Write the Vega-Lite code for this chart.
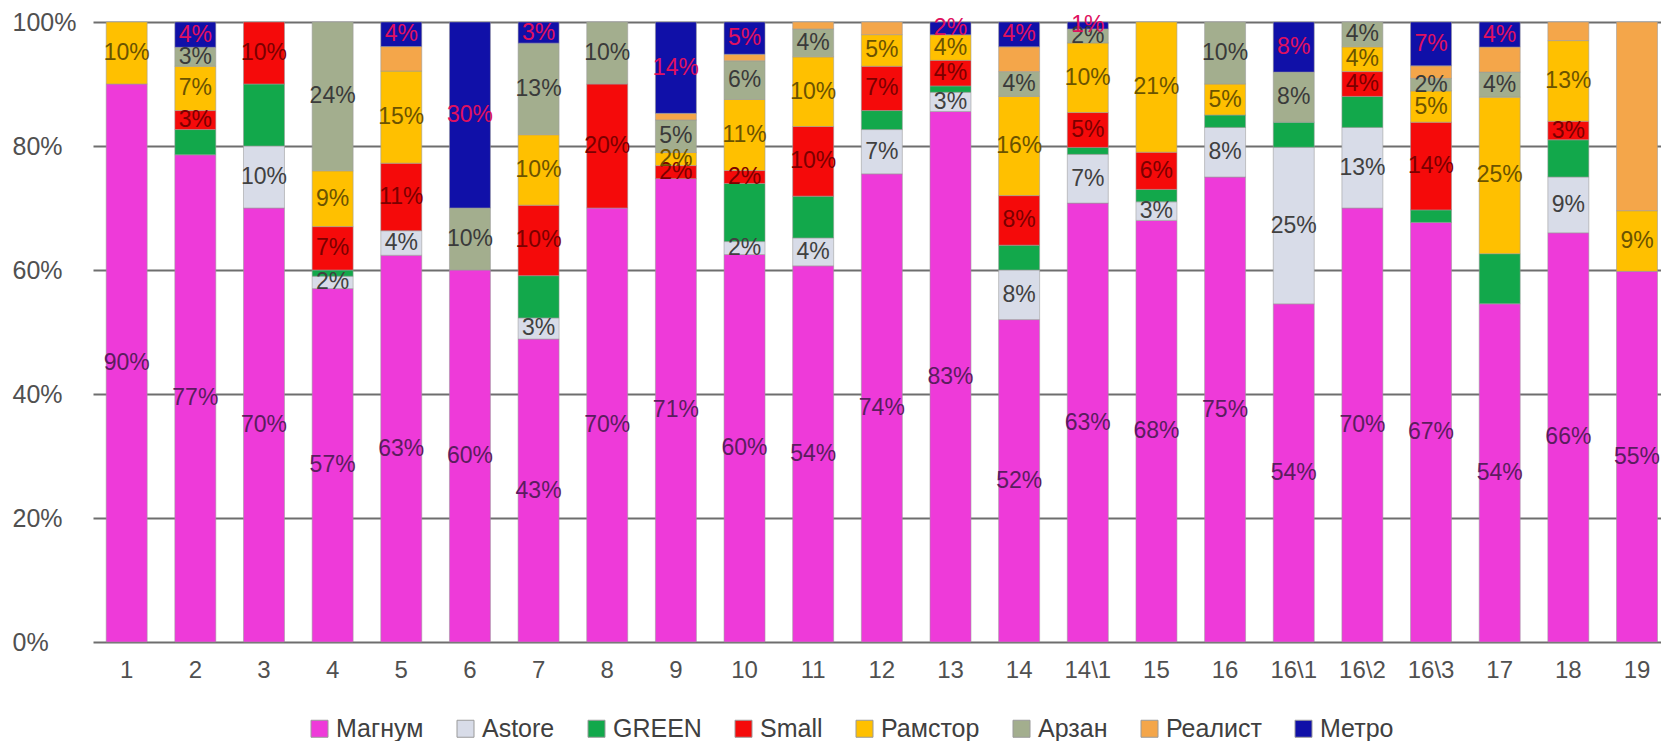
{
  "$schema": "https://vega.github.io/schema/vega-lite/v6.json",
  "width": 1568,
  "height": 620,
  "autosize": {"type": "none"},
  "padding": {"left": 93, "top": 22, "right": 0, "bottom": 99},
  "background": "white",
  "config": {"view": {"stroke": null}, "font": "Liberation Sans"},
  "data": {
    "values": [
      {"bar": "1", "Магнум": 90, "Рамстор": 10},
      {"bar": "2", "Магнум": 77, "GREEN": 4, "Small": 3, "Рамстор": 7, "Арзан": 3, "Метро": 4},
      {"bar": "3", "Магнум": 70, "Astore": 10, "GREEN": 10, "Small": 10},
      {"bar": "4", "Магнум": 57, "Astore": 2, "GREEN": 1, "Small": 7, "Рамстор": 9, "Арзан": 24},
      {"bar": "5", "Магнум": 63, "Astore": 4, "Small": 11, "Рамстор": 15, "Реалист": 4, "Метро": 4},
      {"bar": "6", "Магнум": 60, "Арзан": 10, "Метро": 30},
      {"bar": "7", "Магнум": 43, "Astore": 3, "GREEN": 6, "Small": 10, "Рамстор": 10, "Арзан": 13, "Метро": 3},
      {"bar": "8", "Магнум": 70, "Small": 20, "Арзан": 10},
      {"bar": "9", "Магнум": 71, "Small": 2, "Рамстор": 2, "Арзан": 5, "Реалист": 1, "Метро": 14},
      {"bar": "10", "Магнум": 60, "Astore": 2, "GREEN": 9, "Small": 2, "Рамстор": 11, "Арзан": 6, "Реалист": 1, "Метро": 5},
      {"bar": "11", "Магнум": 54, "Astore": 4, "GREEN": 6, "Small": 10, "Рамстор": 10, "Арзан": 4, "Реалист": 1},
      {"bar": "12", "Магнум": 74, "Astore": 7, "GREEN": 3, "Small": 7, "Рамстор": 5, "Реалист": 2},
      {"bar": "13", "Магнум": 83, "Astore": 3, "GREEN": 1, "Small": 4, "Рамстор": 4, "Метро": 2},
      {"bar": "14", "Магнум": 52, "Astore": 8, "GREEN": 4, "Small": 8, "Рамстор": 16, "Арзан": 4, "Реалист": 4, "Метро": 4},
      {"bar": "14\\1", "Магнум": 63, "Astore": 7, "GREEN": 1, "Small": 5, "Рамстор": 10, "Арзан": 2, "Метро": 1},
      {"bar": "15", "Магнум": 68, "Astore": 3, "GREEN": 2, "Small": 6, "Рамстор": 21},
      {"bar": "16", "Магнум": 75, "Astore": 8, "GREEN": 2, "Рамстор": 5, "Арзан": 10},
      {"bar": "16\\1", "Магнум": 54, "Astore": 25, "GREEN": 4, "Арзан": 8, "Метро": 8},
      {"bar": "16\\2", "Магнум": 70, "Astore": 13, "GREEN": 5, "Small": 4, "Рамстор": 4, "Арзан": 4},
      {"bar": "16\\3", "Магнум": 67, "GREEN": 2, "Small": 14, "Рамстор": 5, "Арзан": 2, "Реалист": 2, "Метро": 7},
      {"bar": "17", "Магнум": 54, "GREEN": 8, "Рамстор": 25, "Арзан": 4, "Реалист": 4, "Метро": 4},
      {"bar": "18", "Магнум": 66, "Astore": 9, "GREEN": 6, "Small": 3, "Рамстор": 13, "Реалист": 3},
      {"bar": "19", "Магнум": 55, "Рамстор": 9, "Реалист": 28}
    ]
  },
  "transform": [
    {"fold": ["Магнум", "Astore", "GREEN", "Small", "Рамстор", "Арзан", "Реалист", "Метро"], "as": ["s", "v"]},
    {"filter": "isValid(datum.v) && datum.v > 0"},
    {"calculate": "indexof(['Магнум','Astore','GREEN','Small','Рамстор','Арзан','Реалист','Метро'], datum.s)", "as": "k"},
    {"stack": "v", "groupby": ["bar"], "sort": [{"field": "k", "order": "ascending"}], "offset": "normalize", "as": ["v0", "v1"]},
    {"calculate": "(datum.v0 + datum.v1) / 2", "as": "mid"},
    {"calculate": "datum.v + '%'", "as": "lbl"}
  ],
  "encoding": {
    "x": {
      "field": "bar",
      "type": "nominal",
      "sort": null,
      "scale": {"paddingInner": 0.403, "paddingOuter": 0.1216, "align": 0.79},
      "axis": {
        "title": null,
        "ticks": false,
        "tickSize": 0,
        "domain": false,
        "grid": false,
        "labelAngle": 0,
        "labelPadding": 16,
        "labelFontSize": 24,
        "labelFont": "Liberation Sans",
        "labelColor": "#505050"
      }
    }
  },
  "layer": [
    {
      "mark": {"type": "bar", "stroke": "#9a9a9a", "strokeWidth": 0.7, "strokeOpacity": 0.8},
      "encoding": {
        "y": {
          "field": "v0",
          "type": "quantitative",
          "scale": {"domain": [0, 1], "nice": false},
          "axis": {
            "title": null,
            "values": [0, 0.2, 0.4, 0.6, 0.8, 1],
            "format": ".0%",
            "grid": true,
            "gridColor": "#6e6e6e",
            "gridWidth": 2,
            "domain": false,
            "ticks": false,
            "tickSize": 0,
            "labelAlign": "left",
            "labelPadding": 81,
            "labelFontSize": 25,
            "labelFont": "Liberation Sans",
            "labelColor": "#505050"
          }
        },
        "y2": {"field": "v1"},
        "color": {
          "field": "s",
          "type": "nominal",
          "scale": {
            "domain": ["Магнум", "Astore", "GREEN", "Small", "Рамстор", "Арзан", "Реалист", "Метро"],
            "range": ["#ee3ad9", "#d8dce8", "#12a84b", "#f50a0a", "#ffc000", "#a3ae8e", "#f4a64a", "#1010a8"]
          },
          "legend": {
            "orient": "none",
            "legendX": 214,
            "legendY": 694,
            "direction": "horizontal",
            "columns": 8,
            "title": null,
            "symbolType": "square",
            "symbolSize": 289,
            "symbolStrokeColor": "#9a9a9a",
            "symbolStrokeWidth": 1,
            "symbolOpacity": 1,
            "labelFontSize": 25,
            "labelFont": "Liberation Sans",
            "labelColor": "#404040",
            "labelOffset": 4,
            "columnPadding": 29
          }
        }
      }
    },
    {
      "transform": [{"filter": "datum.s != 'GREEN' && datum.s != 'Реалист'"}],
      "mark": {"type": "text", "fontSize": 23, "font": "Liberation Sans", "baseline": "middle", "align": "center"},
      "encoding": {
        "y": {"field": "mid", "type": "quantitative"},
        "text": {"field": "lbl"},
        "color": {
          "field": "s",
          "type": "nominal",
          "scale": {
            "domain": ["Магнум", "Astore", "Small", "Рамстор", "Арзан", "Метро"],
            "range": ["#5b1d5e", "#404040", "#7b0000", "#6b5300", "#3a3a3a", "#e0115f"]
          },
          "legend": null
        }
      }
    }
  ],
  "resolve": {"scale": {"color": "independent"}}
}
